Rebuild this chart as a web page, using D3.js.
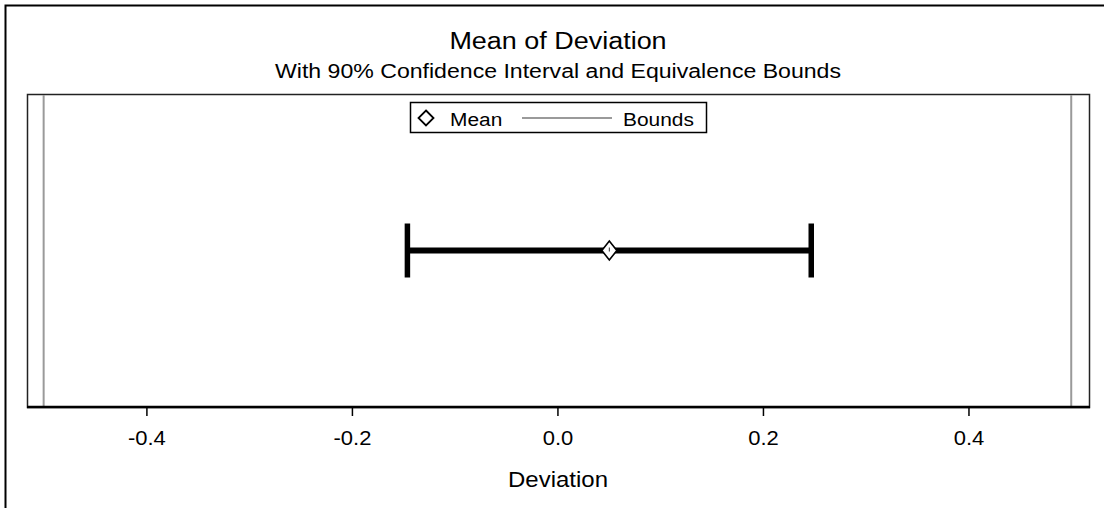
<!DOCTYPE html>
<html>
<head>
<meta charset="utf-8">
<script src="https://cdn.jsdelivr.net/npm/d3@7"></script>
<style>
  html, body { margin: 0; padding: 0; background: #fff; }
  svg { display: block; }
  text { font-family: "Liberation Sans", Arial, sans-serif; fill: #000; }
</style>
</head>
<body>
<svg id="chart" width="1104" height="508"></svg>
<script>
// ---- data ----
const title = "Mean of Deviation";
const subtitle = "With 90% Confidence Interval and Equivalence Bounds";
const xLabel = "Deviation";
const categories = ["Deviation"];
const means = [0.0505];
const lowerCL = [-0.146];
const upperCL = [0.247];
const bounds = [-0.5, 0.5];
const xTicks = [-0.4, -0.2, 0.0, 0.2, 0.4];
const xDomain = [-0.5162, 0.5173];
const legendLabels = ["Mean", "Bounds"];

// ---- layout ----
const W = 1104, H = 508;
const plot = { left: 27, right: 1089, top: 94, bottom: 407 };
const stretch = 1.1;

const svg = d3.select("#chart");

// outer frame (extends beyond view)
svg.append("rect")
  .attr("x", 5.5).attr("y", 5.5)
  .attr("width", W + 20).attr("height", H + 20)
  .attr("fill", "none").attr("stroke", "#000").attr("stroke-width", 2);

const x = d3.scaleLinear().domain(xDomain).range([plot.left, plot.right]);
const y = d3.scaleBand().domain(categories).range([plot.top, plot.bottom]);

function stretchedText(parent, px, py, str, size, anchor) {
  return parent.append("text")
    .attr("transform", `translate(${px},${py}) scale(${stretch},1)`)
    .attr("text-anchor", anchor || "middle")
    .style("font-size", size + "px")
    .text(str);
}

// titles
const cx = (plot.left + plot.right) / 2;
stretchedText(svg, cx, 49, title, 24.5);
stretchedText(svg, cx, 78, subtitle, 21);

// plot frame
svg.append("rect")
  .attr("x", plot.left + 0.5).attr("y", plot.top + 0.5)
  .attr("width", plot.right - plot.left).attr("height", plot.bottom - plot.top)
  .attr("fill", "none").attr("stroke", "#222").attr("stroke-width", 1.5);

// bounds
svg.append("g").selectAll("line").data(bounds).join("line")
  .attr("x1", d => x(d)).attr("x2", d => x(d))
  .attr("y1", plot.top + 1).attr("y2", plot.bottom)
  .attr("stroke", "#9a9a9a").attr("stroke-width", 2);

// x axis
const fmt = d => d3.format(".1f")(d).replace("\u2212", "-");
const axisG = svg.append("g").attr("transform", `translate(0,${plot.bottom})`);
const axis = d3.axisBottom(x).tickValues(xTicks).tickSize(9).tickPadding(0).tickFormat(fmt);
axisG.call(axis);
axisG.select(".domain").attr("stroke", "#000").attr("stroke-width", 2.5).attr("d", `M${plot.left},0H${plot.right + 1}`);
axisG.selectAll(".tick line").attr("stroke", "#000").attr("stroke-width", 1.5);
axisG.selectAll(".tick text").remove();
axisG.selectAll(".tick").each(function(d) {
  stretchedText(d3.select(this), 0, 38, fmt(d), 20);
});
stretchedText(svg, cx, 487, xLabel, 21.8);

// error bars
const data = categories.map((c, i) => ({ c, mean: means[i], lo: lowerCL[i], hi: upperCL[i] }));
const capH = 54;
const eb = svg.append("g");
data.forEach(d => {
  const yc = y(d.c) + y.bandwidth() / 2;
  eb.append("line")
    .attr("x1", x(d.lo)).attr("x2", x(d.hi)).attr("y1", yc).attr("y2", yc)
    .attr("stroke", "#000").attr("stroke-width", 6);
  [d.lo, d.hi].forEach(v => {
    eb.append("line")
      .attr("x1", x(v)).attr("x2", x(v)).attr("y1", yc - capH / 2).attr("y2", yc + capH / 2)
      .attr("stroke", "#000").attr("stroke-width", 5.5);
  });
  // mean marker (diamond)
  const hw = 7.5, hh = 9.5;
  eb.append("path")
    .attr("d", `M${x(d.mean)},${yc - hh}L${x(d.mean) + hw},${yc}L${x(d.mean)},${yc + hh}L${x(d.mean) - hw},${yc}Z`)
    .attr("fill", "#fff").attr("stroke", "#000").attr("stroke-width", 1.6);
  eb.append("line")
    .attr("x1", x(d.mean)).attr("x2", x(d.mean)).attr("y1", yc - 3).attr("y2", yc + 1)
    .attr("stroke", "#000").attr("stroke-width", 0.8);
});

// legend
const lg = svg.append("g");
lg.append("rect").attr("x", 410.5).attr("y", 102.5).attr("width", 296).attr("height", 30)
  .attr("fill", "#fff").attr("stroke", "#000").attr("stroke-width", 1.5);
lg.append("path")
  .attr("d", "M426,110.5L433.5,118L426,125.5L418.5,118Z")
  .attr("fill", "#fff").attr("stroke", "#000").attr("stroke-width", 1.8);
stretchedText(lg, 450, 126, legendLabels[0], 19, "start");
lg.append("line").attr("x1", 522).attr("x2", 612).attr("y1", 118).attr("y2", 118)
  .attr("stroke", "#9a9a9a").attr("stroke-width", 2);
stretchedText(lg, 623, 126, legendLabels[1], 19, "start");
</script>
</body>
</html>
